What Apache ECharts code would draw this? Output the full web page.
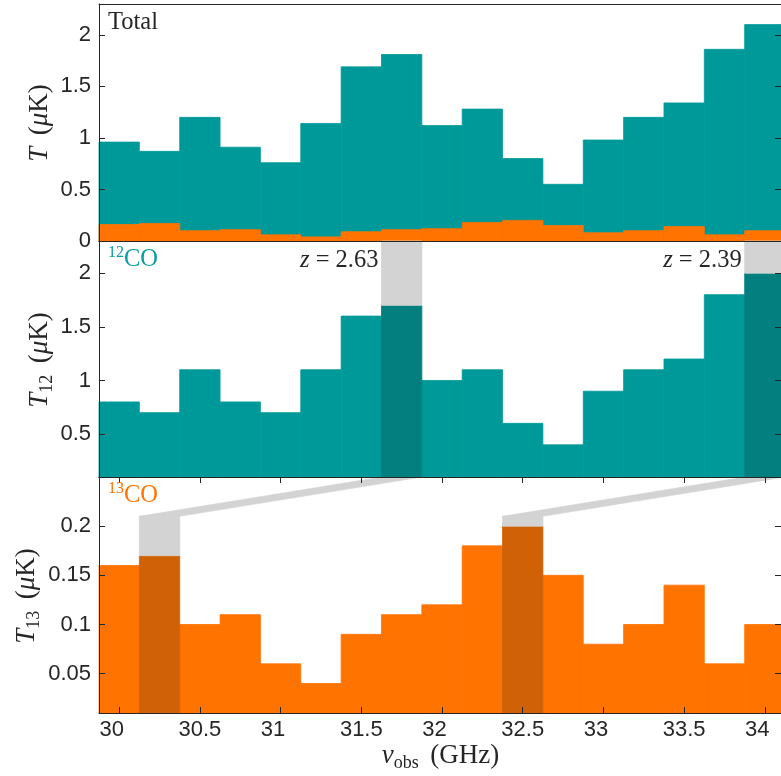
<!DOCTYPE html>
<html><head><meta charset="utf-8">
<script src="https://cdn.jsdelivr.net/npm/echarts@6/dist/echarts.min.js"></script>
<style>html,body{margin:0;padding:0;background:#fff}#c{width:781px;height:776px}</style>
</head><body><div id="c"></div>
<script>
// ---- data ----
const binCenters = [30, 30.25, 30.5, 30.75, 31, 31.25, 31.5, 31.75, 32, 32.25, 32.5, 32.75, 33, 33.25, 33.5, 33.75, 34];
const binWidth = 0.25;
const totalT = [0.96, 0.87, 1.20, 0.91, 0.76, 1.14, 1.69, 1.81, 1.12, 1.28, 0.80, 0.55, 0.98, 1.20, 1.34, 1.86, 2.10];
const t12 = [0.80, 0.70, 1.10, 0.80, 0.70, 1.10, 1.60, 1.70, 1.00, 1.10, 0.60, 0.40, 0.90, 1.10, 1.20, 1.80, 2.00];
const t13 = [0.16, 0.17, 0.10, 0.11, 0.06, 0.04, 0.09, 0.11, 0.12, 0.18, 0.20, 0.15, 0.08, 0.10, 0.14, 0.06, 0.10];
const hi12 = [7, 16];          // highlighted 12CO bins
const hi13 = [1, 10];          // matching 13CO bins
const zLabels = ['2.63', '2.39'];
const xTicks = [30, 30.5, 31, 31.5, 32, 32.5, 33, 33.5, 34];
const yTicks1 = [0, 0.5, 1, 1.5, 2];
const yTicks2 = [0.5, 1, 1.5, 2];
const yTicks3 = [0.05, 0.1, 0.15, 0.2];
const xRange = [29.875, 34.1];
const yRange1 = [0, 2.3], yRange2 = [0.1, 2.3], yRange3 = [0.01, 0.25];
const grayTop13 = 0.21;

// ---- style ----
const TEAL = '#009999', TEAL_D = '#037f7f', ORANGE = '#ff7300', ORANGE_D = '#d16107', GRAY = '#d3d3d3';
const AX = '#262626';
const SANS = 'Liberation Sans', SERIF = 'Liberation Serif';
const L = 99, W = 683;
const grids = [{left: L, top: 4, width: W, height: 237}, {left: L, top: 241, width: W, height: 236}, {left: L, top: 477, width: W, height: 236}];

function rectItem(color) {
  return function (params, api) {
    const c = api.value(0), y0 = api.value(1), y1 = api.value(2);
    const p0 = api.coord([c - binWidth / 2, y1]);
    const p1 = api.coord([c + binWidth / 2, y0]);
    const cs = params.coordSys;
    const shape = echarts.graphic.clipRectByRect(
      {x: p0[0], y: p0[1], width: p1[0] - p0[0], height: p1[1] - p0[1]},
      {x: cs.x, y: cs.y, width: cs.width, height: cs.height});
    return shape && {type: 'rect', shape: shape, style: {fill: color, stroke: color, lineWidth: 0.8}};
  };
}
function ser(grid, data, color) {
  return {type: 'custom', xAxisIndex: grid * 2, yAxisIndex: grid * 2, renderItem: rectItem(color), data: data, z: 2, silent: true, animation: false};
}
const xAxes = [], yAxes = [];
const yR = [yRange1, yRange2, yRange3], yT = [yTicks1, yTicks2, yTicks3];
for (let g = 0; g < 3; g++) {
  const base = {type: 'value', gridIndex: g, min: xRange[0], max: xRange[1], z: 10, splitLine: {show: false},
    axisLine: {show: true, onZero: false, lineStyle: {color: AX, width: 1}}};
  xAxes.push(Object.assign({}, base, {position: 'bottom',
    axisTick: {show: g === 2, inside: true, length: 6, customValues: xTicks, lineStyle: {color: AX}},
    axisLabel: {show: g === 2, customValues: xTicks, margin: 6, fontFamily: SANS, fontSize: 22, color: AX,
      formatter: v => Number.isInteger(v) ? '{p|' + v + '}' : '{n|' + v + '}',
      rich: {p: {fontFamily: SANS, fontSize: 22, color: AX, padding: [0, 15, 0, 0]}, n: {fontFamily: SANS, fontSize: 22, color: AX}}}}));
  xAxes.push(Object.assign({}, base, {position: 'top',
    axisTick: {show: g === 2, inside: true, length: 6, customValues: xTicks, lineStyle: {color: AX}},
    axisLabel: {show: false}}));
  const ybase = {type: 'value', gridIndex: g, min: yR[g][0], max: yR[g][1], z: 10, splitLine: {show: false},
    axisLine: {show: true, onZero: false, lineStyle: {color: AX, width: 1}}};
  yAxes.push(Object.assign({}, ybase, {position: 'left',
    axisTick: {show: true, inside: true, length: 6, customValues: yT[g], lineStyle: {color: AX}},
    axisLabel: {customValues: yT[g], margin: 8, fontFamily: SANS, fontSize: 22, color: AX}}));
  yAxes.push(Object.assign({}, ybase, {position: 'right',
    axisTick: {show: true, inside: true, length: 6, customValues: yT[g], lineStyle: {color: AX}},
    axisLabel: {show: false}}));
}

const series = [
  ser(0, binCenters.map((c, i) => [c, 0, totalT[i]]), TEAL),
  ser(0, binCenters.map((c, i) => [c, 0, t13[i]]), ORANGE),
  ser(1, binCenters.map((c, i) => [c, 0, t12[i]]).filter((d, i) => !hi12.includes(i)), TEAL),
  ser(1, hi12.map(i => [binCenters[i], 0, t12[i]]), TEAL_D),
  ser(1, hi12.map(i => [binCenters[i], t12[i], yRange2[1]]), GRAY),
  ser(2, binCenters.map((c, i) => [c, 0, t13[i]]).filter((d, i) => !hi13.includes(i)), ORANGE),
  ser(2, hi13.map(i => [binCenters[i], 0, t13[i]]), ORANGE_D),
  ser(2, hi13.map(i => [binCenters[i], t13[i], grayTop13]), GRAY)
];

const chart = echarts.init(document.getElementById('c'), null, {renderer: 'canvas'});
chart.setOption({animation: false, grid: grids, xAxis: xAxes, yAxis: yAxes, series: series});

// ---- decorations ----
function mkRich(fs, subFs, col) {
  return {
    it: {fontFamily: SERIF, fontStyle: 'italic', fontSize: fs, lineHeight: fs + 6, verticalAlign: 'middle', fill: col},
    rm: {fontFamily: SERIF, fontSize: fs, lineHeight: fs + 6, verticalAlign: 'middle', fill: col},
    sp: {fontFamily: SERIF, fontSize: fs, lineHeight: fs + 6, verticalAlign: 'middle', fill: col, width: fs * 0.42},
    sub: {fontFamily: SERIF, fontSize: subFs, lineHeight: subFs, verticalAlign: 'bottom', fill: col},
    sup: {fontFamily: SERIF, fontSize: subFs, lineHeight: subFs + 1, verticalAlign: 'top', fill: col}
  };
}
const richAnn = mkRich(24.5, 16, AX);
const richAx = mkRich(27, 18, AX);
function txt(x, y, text, rich, opts) {
  opts = opts || {};
  return {type: 'text', x: x, y: y, rotation: opts.rot || 0, z: 20, silent: true,
    style: {text: text, rich: rich, align: opts.align || 'left', verticalAlign: 'middle',
      textAlign: opts.align || 'left', textVerticalAlign: 'middle', fontFamily: SERIF, fontSize: 24, fill: AX}};
}
const els = [];
hi12.forEach((i12, k) => {
  const i13 = hi13[k];
  const a = chart.convertToPixel({gridIndex: 2}, [binCenters[i13] - binWidth / 2, grayTop13]);
  const b = chart.convertToPixel({gridIndex: 2}, [binCenters[i13] + binWidth / 2, grayTop13]);
  const c = chart.convertToPixel({gridIndex: 1}, [binCenters[i12] + binWidth / 2, yRange2[0]]);
  const d = chart.convertToPixel({gridIndex: 1}, [binCenters[i12] - binWidth / 2, yRange2[0]]);
  els.push({type: 'polygon', z: 1, silent: true, shape: {points: [a, b, c, d]}, style: {fill: GRAY, stroke: GRAY, lineWidth: 0.6}});
  const t = chart.convertToPixel({gridIndex: 1}, [binCenters[i12] - binWidth / 2, yRange2[1]]);
  els.push(txt(t[0] - 3, t[1] + 20, '{it|z}{rm| = ' + zLabels[k] + '}', richAnn, {align: 'right'}));
});
els.push(txt(L + 9, 4 + 19, '{rm|Total}', richAnn));
els.push(txt(L + 9, 241 + 19, '{sup|12}{rm|CO}', mkRich(24.5, 16, '#0a9d9d')));
els.push(txt(L + 9, 477 + 19, '{sup|13}{rm|CO}', mkRich(24.5, 16, ORANGE)));
els.push(txt(40, 123, '{it|T}{sp|}{rm|(}{it|μ}{rm|K)}', richAx, {align: 'center', rot: Math.PI / 2}));
els.push(txt(40, 360, '{it|T}{sub|12}{sp|}{rm|(}{it|μ}{rm|K)}', richAx, {align: 'center', rot: Math.PI / 2}));
els.push(txt(27, 596, '{it|T}{sub|13}{sp|}{rm|(}{it|μ}{rm|K)}', richAx, {align: 'center', rot: Math.PI / 2}));
els.push(txt(L + W / 2, 756, '{it|ν}{sub|obs}{sp|}{rm|(GHz)}', richAx, {align: 'center'}));
chart.setOption({graphic: {elements: els}});
</script></body></html>
